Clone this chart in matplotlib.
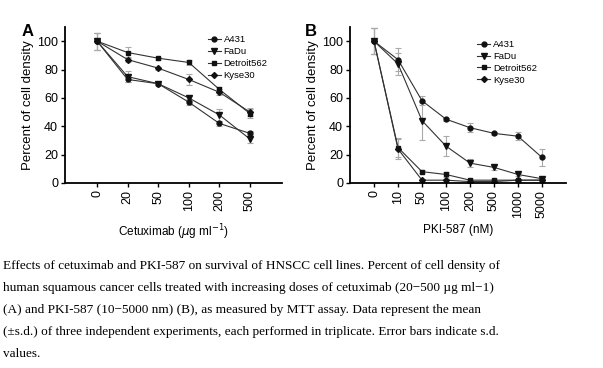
import matplotlib.pyplot as plt
import numpy as np

# panel A: cetuximab doses (ug/ml)
doses_a = ["0", "20", "50", "100", "200", "500"]
a431_a = [100, 73, 70, 57, 42, 35]
fadu_a = [100, 75, 70, 60, 48, 31]
detroit_a = [100, 92, 88, 85, 66, 49]
kyse_a = [100, 87, 81, 73, 64, 50]
a431_a_err = [6, 2, 1, 2, 2, 2]
fadu_a_err = [6, 4, 1, 2, 4, 3]
detroit_a_err = [6, 4, 1, 2, 2, 3]
kyse_a_err = [6, 2, 1, 4, 2, 3]

# panel B: PKI-587 doses (nM)
doses_b = ["0", "10", "50", "100", "200", "500", "1000", "5000"]
a431_b = [100, 87, 58, 45, 39, 35, 33, 18]
fadu_b = [100, 84, 44, 26, 14, 11, 6, 3]
detroit_b = [100, 25, 8, 6, 2, 2, 2, 2]
kyse_b = [100, 24, 2, 2, 1, 1, 2, 2]
a431_b_err = [9, 8, 3, 1, 3, 1, 3, 6]
fadu_b_err = [9, 8, 14, 7, 3, 2, 1, 1]
detroit_b_err = [9, 7, 1, 2, 1, 1, 1, 1]
kyse_b_err = [9, 7, 1, 1, 1, 1, 1, 1]

names = ["A431", "FaDu", "Detroit562", "Kyse30"]
markers = ["o", "v", "s", "D"]
msizes = [3.5, 4, 3.5, 3]

caption = [
    "Effects of cetuximab and PKI-587 on survival of HNSCC cell lines. Percent of cell density of",
    "human squamous cancer cells treated with increasing doses of cetuximab (20\u2212500 \u00b5g ml\u22121)",
    "(A) and PKI-587 (10\u22125000 nm) (B), as measured by MTT assay. Data represent the mean",
    "(\u00b1s.d.) of three independent experiments, each performed in triplicate. Error bars indicate s.d.",
    "values.",
]

plt.rcParams['font.family'] = ['Liberation Sans', 'DejaVu Sans']

fig = plt.figure(figsize=(6.03, 3.68), dpi=100)
ax1 = fig.add_axes([65 / 603, 1 - 183 / 368, 217 / 603, 156 / 368])
ax2 = fig.add_axes([350 / 603, 1 - 183 / 368, 216 / 603, 156 / 368])


def draw_panel(ax, doses, series, errs, xlabel, xlim, legend_pos, label_y):
    x = np.arange(len(doses))
    for vals, err, name, m, ms in zip(series, errs, names, markers, msizes):
        ax.errorbar(x, vals, yerr=err, fmt="none", ecolor="#aaaaaa",
                    elinewidth=0.8, capsize=2.5, capthick=0.8, zorder=1)
        ax.plot(x, vals, color="#333333", lw=0.8, marker=m, ms=ms,
                mfc="#111111", mec="#111111", label=name, zorder=2)
    ax.set_xlim(*xlim)
    ax.set_ylim(0, 110)
    ax.set_yticks([0, 20, 40, 60, 80, 100])
    ax.set_xticks(x)
    ax.set_xticklabels(doses, rotation=90)
    for s in ["top", "right"]:
        ax.spines[s].set_visible(False)
    for s in ["left", "bottom"]:
        ax.spines[s].set_linewidth(1.3)
    ax.tick_params(labelsize=9, width=1, length=3, pad=2)
    ax.set_xlabel(xlabel, fontsize=8.5)
    ax.xaxis.set_label_coords(0.5, label_y)
    ax.set_ylabel("Percent of cell density", fontsize=9.5, labelpad=2)
    ax.legend(loc="upper left", bbox_to_anchor=legend_pos, frameon=False,
              fontsize=6.8, handlelength=1.4, handletextpad=0.3,
              labelspacing=0.3, borderaxespad=0)


draw_panel(ax1, doses_a, [a431_a, fadu_a, detroit_a, kyse_a],
           [a431_a_err, fadu_a_err, detroit_a_err, kyse_a_err],
           "Cetuximab ($\\mu$g ml$^{-1}$)", (-1.05, 6.05), (0.64, 0.97), -0.25)
draw_panel(ax2, doses_b, [a431_b, fadu_b, detroit_b, kyse_b],
           [a431_b_err, fadu_b_err, detroit_b_err, kyse_b_err],
           "PKI-587 (nM)", (-1.0, 8.0), (0.57, 0.94), -0.26)

fig.text(22 / 603, 1 - 31 / 368, "A", fontsize=12, fontweight="bold", va="center")
fig.text(305 / 603, 1 - 31 / 368, "B", fontsize=12, fontweight="bold", va="center")

for i, line in enumerate(caption):
    fig.text(3 / 603, 1 - (266 + 22 * i) / 368, line, fontsize=9.5,
             family="Liberation Serif", va="center")

fig.savefig("out.png", dpi=100)
